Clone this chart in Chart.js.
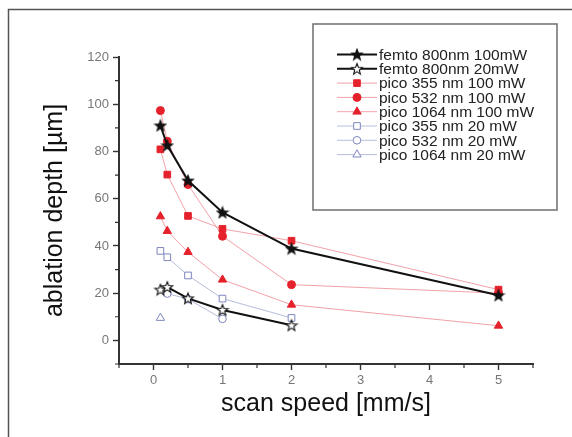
<!DOCTYPE html>
<html>
<head>
<meta charset="utf-8">
<script src="https://cdn.jsdelivr.net/npm/chart.js@4.4.1/dist/chart.umd.min.js"></script>
<style>
  html, body { margin: 0; padding: 0; background: #fff; }
  #wrap { width: 572px; height: 437px; position: relative; }
</style>
</head>
<body>
<div id="wrap"><canvas id="depthChart"></canvas></div>
<script>
// scan speeds (mm/s) and measured ablation depths (um), null = no point
const speeds = [0.1, 0.2, 0.5, 1, 2, 5];
const femto100 = [91.0, 82.6, 67.7, 54.2, 38.9, 19.1];
const femto20 = [21.5, 22.6, 17.8, 12.9, 6.4, null];
const pico355_100 = [80.9, 70.2, 52.7, 47.2, 42.2, 21.5];
const pico532_100 = [97.3, 84.3, 66.0, 44.1, 23.6, 20.0];
const pico1064_100 = [52.5, 46.3, 37.4, 25.7, 15.1, 6.2];
const pico355_20 = [37.9, 35.2, 27.5, 17.7, 9.5, null];
const pico532_20 = [null, 19.8, 17.5, 9.1, null, null];
const pico1064_20 = [9.5, null, null, null, null, null];

const seriesNames = [
  'femto 800nm 100mW', 'femto 800nm 20mW',
  'pico 355 nm 100 mW', 'pico 532 nm 100 mW', 'pico 1064 nm 100 mW',
  'pico 355 nm 20 mW', 'pico 532 nm 20 mW', 'pico 1064 nm 20 mW'
];
const xTicks = [0, 1, 2, 3, 4, 5];
const yTicks = [0, 20, 40, 60, 80, 100, 120];

const RED = '#e5212b';
const PINK = '#f2a2a8';
const BLUE = '#7d86bf';
const LIGHTBLUE = '#b7bedc';

function starMarker(fill) {
  const c = document.createElement('canvas');
  c.width = 14; c.height = 14;
  const g = c.getContext('2d');
  const cx = 7, cy = 7.5, R = 5.7, r = 2.4;
  g.beginPath();
  for (let i = 0; i < 10; i++) {
    const a = -Math.PI / 2 + i * Math.PI / 5;
    const rr = i % 2 ? r : R;
    g.lineTo(cx + rr * Math.cos(a), cy + rr * Math.sin(a));
  }
  g.closePath();
  g.fillStyle = fill;
  g.fill();
  g.lineWidth = 1.1;
  g.strokeStyle = '#111';
  g.stroke();
  return c;
}

function pts(vals) {
  return speeds.map((s, i) => ({ x: s, y: vals[i] })).filter(p => p.y !== null);
}

function ds(label, vals, line, lw, style, radius, fill, stroke) {
  return {
    label: label,
    data: pts(vals),
    borderColor: line,
    borderWidth: lw,
    pointStyle: style,
    pointRadius: radius,
    pointHoverRadius: radius,
    pointBackgroundColor: fill,
    pointBorderColor: stroke,
    pointBorderWidth: 1,
    fill: false,
    tension: 0
  };
}

const datasets = [
  ds(seriesNames[0], femto100, '#111', 2, starMarker('#111'), 7, '#111', '#111'),
  ds(seriesNames[1], femto20, '#111', 2, starMarker('#fff'), 7, '#fff', '#111'),
  ds(seriesNames[2], pico355_100, PINK, 1, 'rect', 4.7, RED, RED),
  ds(seriesNames[3], pico532_100, PINK, 1, 'circle', 4, RED, RED),
  ds(seriesNames[4], pico1064_100, PINK, 1, 'triangle', 4.8, RED, RED),
  ds(seriesNames[5], pico355_20, LIGHTBLUE, 1, 'rect', 4.7, '#fff', BLUE),
  ds(seriesNames[6], pico532_20, LIGHTBLUE, 1, 'circle', 3.8, '#fff', BLUE),
  ds(seriesNames[7], pico1064_20, LIGHTBLUE, 1, 'triangle', 4.8, '#fff', BLUE)
];

// frame, minor ticks and boxed legend
const extras = {
  id: 'extras',
  beforeDraw(chart) {
    const ctx = chart.ctx;
    ctx.save();
    ctx.fillStyle = '#fff';
    ctx.fillRect(0, 0, chart.width, chart.height);
    ctx.strokeStyle = '#555';
    ctx.lineWidth = 1.5;
    ctx.beginPath();
    ctx.moveTo(8.5, chart.height);
    ctx.lineTo(8.5, 9.5);
    ctx.lineTo(chart.width, 9.5);
    ctx.stroke();
    ctx.restore();
  },
  afterDraw(chart) {
    const ctx = chart.ctx;
    const xs = chart.scales.x, ys = chart.scales.y;
    ctx.save();
    ctx.strokeStyle = '#333';
    ctx.lineWidth = 1.2;
    ctx.beginPath();
    for (let v = -0.5; v <= 5.5; v += 1) {
      const px = xs.getPixelForValue(v);
      ctx.moveTo(px, xs.top); ctx.lineTo(px, xs.top + 4);
    }
    for (let v = -10; v <= 110; v += 20) {
      const py = ys.getPixelForValue(v);
      ctx.moveTo(ys.right, py); ctx.lineTo(ys.right - 4, py);
    }
    ctx.stroke();

    // legend box
    const bx = 313, by = 24, bw = 244, bh = 186;
    ctx.strokeStyle = '#777';
    ctx.lineWidth = 1.6;
    ctx.strokeRect(bx, by, bw, bh);
    ctx.font = '15.5px "Liberation Sans", Arial, sans-serif';
    ctx.textBaseline = 'middle';
    chart.data.datasets.forEach((d, i) => {
      const y = 54.5 + i * 14.3;
      ctx.strokeStyle = d.borderColor;
      ctx.lineWidth = d.borderWidth;
      ctx.beginPath();
      ctx.moveTo(337, y); ctx.lineTo(377, y);
      ctx.stroke();
      ctx.fillStyle = d.pointBackgroundColor;
      ctx.strokeStyle = d.pointBorderColor;
      ctx.lineWidth = 1;
      Chart.helpers.drawPoint(ctx, {
        pointStyle: d.pointStyle, radius: d.pointRadius, rotation: 0, borderWidth: 1
      }, 357, y);
      ctx.fillStyle = '#222';
      ctx.fillText(d.label, 379, y + 1);
    });
    ctx.restore();
  }
};

new Chart(document.getElementById('depthChart'), {
  type: 'line',
  data: { datasets: datasets },
  options: {
    responsive: true,
    maintainAspectRatio: false,
    animation: false,
    layout: { padding: { top: 57, right: 39, left: 0, bottom: 0 } },
    plugins: { legend: { display: false }, tooltip: { enabled: false } },
    scales: {
      x: {
        type: 'linear',
        min: -0.5,
        max: 5.5,
        afterFit: s => { s.height = 73; },
        afterBuildTicks: s => { s.ticks = xTicks.map(v => ({ value: v })); },
        ticks: { color: '#777', font: { size: 13, family: 'Liberation Sans' }, padding: 3 },
        grid: { drawOnChartArea: false, drawTicks: true, tickLength: 6, tickColor: '#333', tickWidth: 1.4 },
        border: { display: true, color: '#333', width: 2 },
        title: {
          display: true, text: 'scan speed [mm/s]', color: '#111',
          font: { size: 25, family: 'Liberation Sans' }, padding: { top: 0, bottom: 18 }
        }
      },
      y: {
        type: 'linear',
        min: -10,
        max: 120,
        afterFit: s => { s.width = 119; },
        afterBuildTicks: s => { s.ticks = yTicks.map(v => ({ value: v })); },
        ticks: { color: '#777', font: { size: 13, family: 'Liberation Sans' }, padding: 4 },
        grid: { drawOnChartArea: false, drawTicks: true, tickLength: 6, tickColor: '#333', tickWidth: 1.4 },
        border: { display: true, color: '#333', width: 2 },
        title: {
          display: true, text: 'ablation depth [\u00b5m]', color: '#111',
          font: { size: 25, family: 'Liberation Sans' }, padding: { top: 40, bottom: 0 }
        }
      }
    }
  },
  plugins: [extras]
});
</script>
</body>
</html>
